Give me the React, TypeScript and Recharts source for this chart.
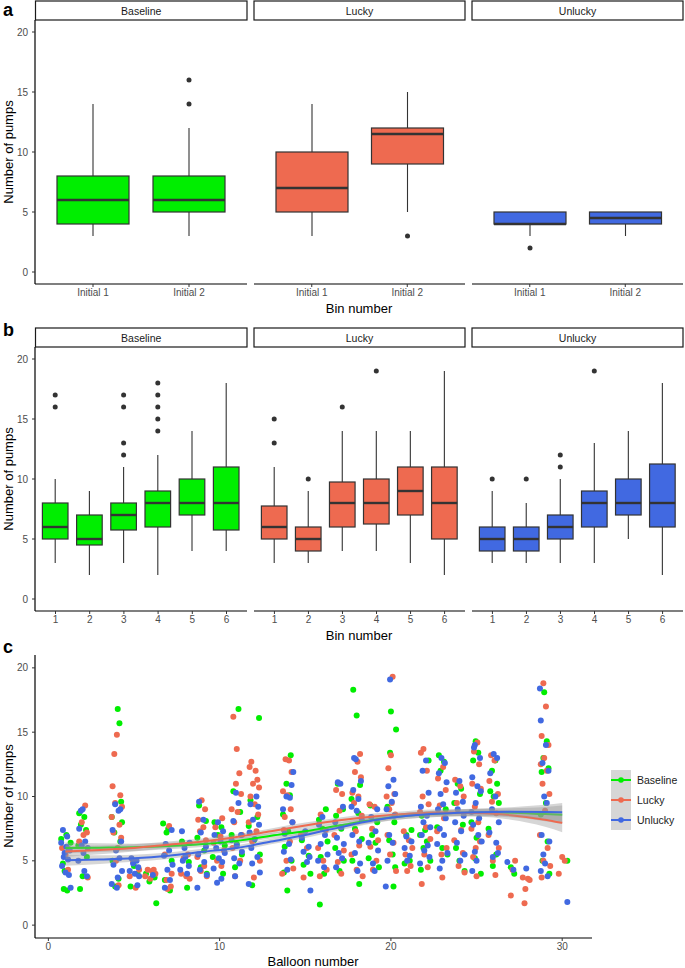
import React from 'react';
import { ComposedChart, Bar, XAxis, YAxis, Scatter, Line, Area } from 'recharts';

const FONT = '"Liberation Sans", Arial, Helvetica, sans-serif';
const GREEN = '#00EE00';
const RED = '#EE6A50';
const BLUE = '#4169E1';
const BOX_LINE = '#333333';

// ---------- Panel a / b data: [lower whisker, Q1, median, Q3, upper whisker]
const initialBins = ['Initial 1', 'Initial 2'];
const binNumbers = ['1', '2', '3', '4', '5', '6'];

const aBaselineBox = [[3, 4, 6, 8, 14], [3, 5, 6, 8, 12]];
const aBaselineOut = [[], [14, 16]];
const aLuckyBox = [[3, 5, 7, 10, 14], [5, 9, 11.5, 12, 15]];
const aLuckyOut = [[], [3]];
const aUnluckyBox = [[3, 4, 4, 5, 5], [3, 4, 4.5, 5, 5]];
const aUnluckyOut = [[2], []];

const bBaselineBox = [[3, 5, 6, 8, 10], [2, 4.5, 5, 7, 9], [3, 5.75, 7, 8, 11], [2, 6, 8, 9, 12], [4, 7, 8, 10, 14], [4, 5.75, 8, 11, 18]];
const bBaselineOut = [[16, 17], [], [12, 13, 16, 17], [14, 15, 16, 17, 18], [], []];
const bLuckyBox = [[3, 5, 6, 7.75, 11], [3, 4, 5, 6, 9], [4, 6, 8, 9.75, 14], [4, 6.25, 8, 10, 14], [3, 7, 9, 11, 14], [2, 5, 8, 11, 19]];
const bLuckyOut = [[13, 15], [10], [16], [19], [], []];
const bUnluckyBox = [[3, 4, 5, 6, 9], [3, 4, 5, 6, 8], [3, 5, 6, 7, 10], [3, 6, 8, 9, 13], [5, 7, 8, 10, 14], [2, 6, 8, 11.25, 18]];
const bUnluckyOut = [[10], [10], [11, 12], [19], [], []];

// ---------- Panel c data: jittered [balloon, pumps]
const baselinePts = [
  [0.75,6.7],[1.05,7.0],[0.85,4.8],[0.9,2.8],[1.1,2.7],[1.2,5.9],[0.95,4.2],[1.3,6.4],
  [1.8,8.7],[2.1,8.4],[1.9,7.8],[2.2,7.4],[1.75,6.2],[2.0,3.8],[1.85,2.8],[2.25,5.3],
  [4.05,16.8],[4.15,15.7],[3.7,8.4],[4.3,8.0],[3.85,7.2],[4.2,6.5],[3.75,5.0],[4.1,3.6],[3.9,3.0],[4.25,9.6],
  [4.8,3.0],[5.2,4.0],[5.0,4.6],
  [5.7,4.0],[6.2,3.7],[6.3,1.7],[5.9,3.4],
  [6.7,7.9],[7.0,7.5],[6.9,7.2],[7.2,5.0],[6.8,3.5],[7.1,2.7],
  [8.1,2.9],[7.8,6.5],[8.2,4.9],
  [8.8,9.3],[9.2,8.1],[8.7,6.8],[9.1,5.8],[8.9,4.5],[9.25,4.0],
  [9.7,8.0],[10.1,7.6],[9.9,7.0],[10.3,6.2],[9.6,5.3],[10.2,4.0],
  [11.1,16.8],[10.8,10.4],[11.2,8.8],[10.7,7.0],[11.0,6.3],[11.3,5.5],[10.9,4.5],
  [12.3,16.1],[11.8,9.7],[12.2,8.4],[11.7,7.7],[12.0,6.6],[12.35,5.5],[11.9,3.1],
  [14.15,13.2],[13.9,11.0],[14.1,10.1],[13.7,8.6],[14.0,7.3],[13.8,6.1],[14.2,5.0],[13.75,4.1],[13.95,2.7],
  [14.8,6.6],[15.2,5.4],[14.9,4.7],[15.3,4.0],
  [16.2,9.0],[15.8,8.2],[16.0,7.5],[16.3,6.5],[15.9,5.3],[16.1,4.0],[15.85,1.6],
  [16.9,11.0],[17.2,9.0],[16.8,8.5],[17.1,7.5],[16.75,6.0],[17.25,5.0],[17.0,4.2],
  [17.8,18.3],[18.0,16.3],[18.2,10.9],[17.7,9.8],[18.1,8.7],[17.9,7.5],[18.3,6.7],[17.75,5.0],[18.15,3.2],
  [18.8,9.3],[19.2,8.0],[18.9,7.0],[19.1,6.4],[18.7,5.2],[19.3,4.5],
  [20.0,16.6],[20.3,15.2],[19.95,13.4],[19.8,9.2],[20.2,8.0],[19.9,6.6],[20.1,5.5],[20.25,4.5],[20.15,3.0],
  [21.2,7.4],[20.9,7.0],[21.1,5.0],[20.8,4.8],
  [22.2,12.8],[21.8,8.5],[22.0,7.4],[21.7,7.0],[22.1,6.5],[21.9,6.0],[22.3,5.0],[21.75,4.3],
  [22.8,13.2],[23.1,12.7],[22.9,12.0],[23.2,9.0],[22.7,7.6],[23.0,6.0],[23.3,5.5],
  [23.9,11.0],[24.1,10.6],[23.7,9.5],[24.2,7.8],[23.8,6.0],[24.0,5.0],[24.3,4.2],
  [24.95,14.3],[25.1,13.4],[24.8,12.8],[25.2,10.2],[24.7,8.0],[25.0,6.8],[24.9,5.2],[25.25,4.0],
  [26.1,12.8],[25.9,12.0],[26.2,11.0],[25.8,10.4],[26.0,10.0],[26.3,9.5],[25.7,7.5],[26.15,5.5],[25.95,4.6],
  [27.0,4.5],[27.2,4.0],
  [28.95,18.1],[29.1,14.3],[28.9,13.0],[29.2,12.2],[28.8,11.9],[29.05,9.5],[28.75,8.6],[29.15,6.5],[28.85,5.0],[29.25,4.0],
  [30.3,5.0],
];

const luckyPts = [
  [1.0,5.5],[1.15,4.3],[0.8,6.0],
  [2.15,9.3],[1.95,8.0],[2.25,7.2],[2.05,7.0],[1.8,6.5],[2.3,3.7],
  [4.0,14.8],[3.85,13.3],[3.75,10.8],[4.2,10.1],[3.9,9.5],[4.3,9.2],[3.7,8.4],[4.15,7.8],[3.8,7.2],[4.25,6.8],[4.05,6.0],[3.95,5.0],[4.1,3.1],
  [4.95,4.9],[5.3,4.3],[4.75,3.8],[5.1,2.9],
  [5.8,4.3],[6.05,4.2],[6.25,4.0],[5.65,3.8],[5.95,3.6],[6.15,4.3],
  [7.05,7.7],[6.8,5.5],[7.2,4.0],[6.9,3.5],[7.15,3.0],[6.95,2.8],
  [7.75,4.0],[8.05,3.8],[8.25,3.6],[7.9,5.2],[8.15,5.5],
  [8.95,9.7],[9.15,9.0],[8.75,8.2],[9.05,7.6],[8.85,7.3],[9.2,6.6],[8.7,5.3],[9.1,4.6],[8.9,4.2],[9.25,3.8],
  [10.15,8.3],[9.75,7.6],[10.05,6.9],[9.65,6.4],[10.25,5.8],[9.85,5.0],[10.1,4.6],
  [10.8,16.2],[11.0,13.7],[11.15,11.8],[10.95,11.0],[11.25,10.2],[10.7,9.0],[11.05,8.8],[10.85,8.0],[11.3,7.0],[10.75,6.0],[11.2,5.0],[10.9,3.8],
  [11.85,12.7],[11.75,12.3],[12.1,12.0],[12.2,11.3],[11.95,11.0],[12.3,10.7],[11.8,10.0],[12.05,9.4],[12.25,8.6],[11.7,8.0],[12.15,7.3],[11.9,6.5],[12.35,5.0],[12.0,3.7],
  [13.85,12.9],[14.05,12.8],[14.2,11.9],[13.7,10.4],[13.95,10.1],[14.15,9.0],[13.8,8.4],[14.25,8.0],[13.75,7.4],[14.1,6.5],[13.9,5.0],[14.3,4.4],[13.65,4.0],
  [14.75,7.0],[15.1,6.0],[14.9,3.7],
  [15.9,8.6],[16.2,7.4],[15.75,6.0],[16.05,5.0],[16.25,4.3],[15.85,3.8],
  [16.8,10.5],[17.15,10.2],[17.0,8.9],[16.7,7.0],[17.25,5.8],[16.9,4.9],[17.1,4.0],
  [18.2,13.3],[18.05,12.7],[17.9,11.9],[18.25,11.5],[17.75,10.3],[18.1,10.0],[17.85,9.5],[18.3,8.5],[17.95,7.3],[18.15,6.2],[17.7,5.5],[18.0,4.3],[18.35,3.8],
  [18.75,9.4],[19.05,9.2],[18.9,7.5],[19.25,6.6],[18.8,6.1],[19.15,5.0],[18.95,4.3],
  [20.1,19.3],[20.0,13.2],[19.85,12.2],[20.2,10.2],[19.75,10.0],[20.05,9.5],[19.9,9.0],[20.25,8.6],[19.8,7.0],[20.15,6.4],[19.95,5.5],[20.3,4.2],
  [20.75,7.3],[21.05,6.6],[21.25,6.0],[20.85,5.5],[21.15,4.6],[20.95,4.2],
  [21.9,13.7],[21.75,13.4],[22.1,12.0],[21.85,10.0],[22.2,9.4],[21.7,8.8],[22.05,7.6],[22.3,6.7],[21.95,5.5],[22.15,4.5],[21.8,3.2],
  [23.05,12.3],[22.75,11.4],[23.2,10.5],[22.85,9.3],[23.1,8.3],[22.7,7.3],[23.25,6.0],[22.95,5.5],[23.0,3.7],
  [23.75,11.3],[24.05,10.8],[24.25,10.0],[23.85,9.5],[24.1,7.4],[23.7,6.6],[24.2,5.6],[23.95,4.6],[24.3,4.1],
  [25.05,14.2],[24.85,13.5],[25.15,12.5],[24.75,11.0],[25.25,10.6],[24.9,9.2],[25.1,8.0],[24.7,7.5],[25.2,6.5],[24.95,6.0],[24.8,5.3],[25.0,3.8],
  [25.85,13.2],[26.05,12.8],[25.75,11.2],[26.25,10.2],[25.9,9.6],[26.15,8.7],[25.7,7.0],[26.3,6.0],[25.95,5.0],[26.1,3.9],
  [27.25,5.0],[27.1,4.3],[27.0,2.3],
  [27.7,3.7],[28.0,3.6],[27.85,2.8],[27.8,1.7],[28.1,3.5],
  [28.9,18.8],[29.05,17.0],[28.8,14.7],[29.2,14.0],[28.95,13.0],[28.75,12.5],[29.1,12.0],[28.85,11.0],[29.25,10.2],[29.0,8.9],[28.7,7.0],[29.15,6.0],[28.9,5.0],[29.3,4.6],[28.8,3.7],
  [30.0,5.3],[30.15,5.0],[29.8,4.0],
];

const unluckyPts = [
  [0.85,7.4],[1.1,6.9],[0.75,6.4],[1.25,5.8],[0.9,5.3],[1.15,5.1],[0.8,4.6],[1.0,4.1],[1.2,3.9],[1.3,2.9],[1.05,6.1],[0.95,5.6],
  [1.9,8.9],[2.0,9.0],[1.8,7.5],[2.15,6.5],[1.95,6.2],[2.3,6.0],[1.75,5.0],[2.1,4.2],[2.25,3.8],[2.05,5.6],
  [3.9,9.4],[4.2,9.0],[4.1,8.9],[3.75,7.4],[4.25,6.5],[3.95,5.8],[4.15,5.2],[3.8,4.7],[4.3,4.2],[4.05,3.7],[3.7,3.2],[4.0,2.9],
  [4.85,5.2],[5.15,5.0],[4.95,4.8],[5.25,4.5],[4.75,4.2],[5.05,4.0],[5.3,3.8],[5.2,3.1],
  [6.1,3.9],
  [7.2,7.4],[6.85,6.3],[7.05,5.8],[6.75,5.4],[7.25,4.7],[6.95,4.3],[7.1,3.5],[6.8,2.9],
  [8.0,5.3],[7.85,5.0],[8.2,4.6],[7.7,4.3],[8.1,4.0],[7.95,6.0],[8.25,6.4],[7.8,7.3],
  [8.8,9.6],[9.05,8.2],[8.9,7.2],[9.2,6.1],[8.75,5.5],[9.1,4.9],[8.85,4.3],[9.25,3.9],[8.7,2.9],
  [9.9,8.0],[10.2,7.3],[9.7,7.0],[10.05,6.5],[9.8,6.0],[10.3,5.6],[9.95,5.2],[10.15,4.9],[9.65,4.4],[10.1,3.6],[9.85,3.3],
  [10.95,10.3],[11.1,9.5],[10.8,8.1],[11.25,7.0],[10.7,6.6],[11.0,6.2],[11.3,5.7],[10.85,5.2],[11.15,4.8],[10.9,3.8],
  [12.15,10.0],[11.8,9.4],[12.25,9.2],[11.95,8.2],[12.3,7.8],[11.75,7.2],[12.05,6.7],[11.85,6.0],[12.2,5.3],[11.9,4.8],[12.35,4.1],[11.7,3.2],
  [14.3,11.9],[14.2,10.9],[13.9,10.0],[14.1,9.9],[13.7,9.0],[14.25,8.0],[13.8,7.1],[14.05,6.3],[13.75,5.7],[14.15,5.1],[13.95,4.3],
  [15.0,7.3],[14.8,6.8],[15.2,6.1],[14.9,5.7],[15.25,5.3],[15.1,4.9],[15.3,2.7],
  [16.0,8.4],[15.8,7.8],[16.15,7.0],[15.9,6.3],[16.3,5.5],[15.75,5.0],[16.1,4.5],
  [16.9,11.1],[17.05,11.0],[17.2,9.2],[16.75,8.0],[17.1,7.6],[16.85,6.8],[17.25,6.3],[16.95,5.6],[17.15,5.2],[16.8,4.5],
  [17.85,13.0],[17.95,12.9],[18.25,11.2],[17.8,10.5],[18.1,9.8],[17.7,9.2],[18.0,8.9],[18.3,8.2],[17.75,7.0],[18.15,6.5],[17.9,5.6],[18.2,4.8],[18.05,4.2],
  [19.2,9.0],[18.85,8.4],[19.1,7.3],[18.7,6.4],[19.25,5.8],[18.95,4.8],[19.05,4.2],
  [19.95,19.1],[20.15,11.3],[19.85,10.8],[20.25,10.2],[20.05,9.6],[19.75,9.0],[20.2,8.5],[19.9,7.0],[20.1,6.4],[19.8,5.0],[19.7,3.0],
  [20.9,6.9],[21.2,6.5],[20.8,6.0],[21.1,5.4],[20.95,5.0],
  [22.05,12.8],[21.85,12.0],[22.2,10.3],[21.75,9.2],[22.1,8.5],[21.9,8.0],[22.3,7.6],[21.8,7.0],[22.15,6.2],[21.95,5.8],[22.25,5.3],[21.7,4.8],
  [22.95,13.0],[23.15,12.6],[22.8,11.8],[23.25,11.1],[22.9,10.2],[23.05,9.4],[22.75,9.0],[23.2,8.3],[22.85,7.5],[23.1,7.0],[22.7,6.3],[23.3,5.6],[23.0,5.0],[22.85,4.4],
  [24.0,11.2],[23.8,10.3],[24.2,9.6],[23.9,9.0],[24.25,8.5],[23.75,8.0],[24.1,7.3],[23.85,6.4],[24.3,5.5],[24.05,5.0],
  [24.9,14.0],[24.85,13.8],[25.2,13.0],[24.75,11.5],[25.05,10.8],[25.25,10.4],[24.95,9.5],[24.7,8.8],[25.15,8.3],[24.8,7.8],[25.1,7.0],[25.3,6.5],[24.9,5.7],[25.0,5.0],[24.75,4.2],
  [26.0,13.3],[26.2,13.0],[25.8,11.8],[26.1,10.0],[25.9,9.0],[26.3,8.0],[25.75,7.2],[26.15,6.4],[25.95,5.3],[26.25,5.6],
  [26.8,4.9],[27.15,4.3],
  [27.9,4.4],
  [28.7,18.4],[28.75,15.9],[29.05,14.0],[28.85,12.6],[29.2,12.0],[28.95,10.0],[29.1,9.5],[28.8,7.0],[29.25,6.5],[28.9,5.5],[29.0,4.8],[28.75,4.2],[29.15,3.8],
  [30.3,1.8],
];

// Smoothed (loess) fits with standard-error half widths
const smoothX = [1, 3, 5, 7, 9, 11, 13, 15, 17, 19, 21, 23, 25, 27, 29, 30];
const baselineFit = [6.0, 6.02, 6.05, 6.15, 6.3, 6.55, 6.95, 7.3, 7.75, 8.2, 8.5, 8.67, 8.75, 8.73, 8.63, 8.58];
const luckyFit = [5.72, 5.85, 6.0, 6.25, 6.5, 6.85, 7.3, 7.75, 8.15, 8.45, 8.65, 8.75, 8.72, 8.55, 8.2, 7.95];
const unluckyFit = [5.04, 5.1, 5.2, 5.4, 5.7, 6.0, 6.5, 7.0, 7.6, 8.15, 8.5, 8.68, 8.78, 8.82, 8.8, 8.77];
const fitSe = [0.42, 0.34, 0.28, 0.25, 0.23, 0.22, 0.22, 0.22, 0.22, 0.22, 0.23, 0.25, 0.28, 0.35, 0.55, 0.72];

const conditions = ['Baseline', 'Lucky', 'Unlucky'];
const conditionColors = [GREEN, RED, BLUE];

// ---------- helpers
const tickStyle = { fontSize: 10, fill: '#4d4d4d', fontFamily: FONT };

function BoxShape(props: any) {
  const { x, y, width, height, color } = props;
  const d = props.payload || props;
  const { lo, q1, med, q3, hi, out } = d;
  const top = Math.min(y, y + height);
  const bot = Math.max(y, y + height);
  const py = (v: number) => bot - ((v - lo) / (hi - lo)) * (bot - top);
  const cx = x + width / 2;
  return (
    <g>
      <line x1={cx} x2={cx} y1={py(hi)} y2={py(q3)} stroke={BOX_LINE} strokeWidth={1.1} />
      <line x1={cx} x2={cx} y1={py(q1)} y2={py(lo)} stroke={BOX_LINE} strokeWidth={1.1} />
      <rect x={x} y={py(q3)} width={width} height={py(q1) - py(q3)} fill={color} stroke={BOX_LINE} strokeWidth={1.2} />
      <line x1={x} x2={x + width} y1={py(med)} y2={py(med)} stroke={BOX_LINE} strokeWidth={2.4} />
      {(out || []).map((v: number, i: number) => (
        <circle key={i} cx={cx} cy={py(v)} r={2.5} fill={BOX_LINE} />
      ))}
    </g>
  );
}

function BoxFacet(props: { bins: string[]; box: number[][]; out: number[][]; color: string; width: number; showY: boolean; pad: number; barSize: number }) {
  const { bins, box, out, color, width, showY, pad, barSize } = props;
  const rows = bins.map((b, i) => ({ bin: b, lo: box[i][0], q1: box[i][1], med: box[i][2], q3: box[i][3], hi: box[i][4], out: out[i] }));
  return (
    <ComposedChart width={width} height={294} data={rows} margin={{ top: 0, right: 0, bottom: 0, left: 0 }}>
      <XAxis
        dataKey="bin"
        type="category"
        padding={{ left: pad, right: pad }}
        height={30}
        tickSize={3}
        tickMargin={2}
        interval={0}
        tick={tickStyle}
        axisLine={{ stroke: '#000', strokeWidth: 1.2 }}
        tickLine={{ stroke: '#333' }}
      />
      <YAxis
        hide={!showY}
        width={showY ? 35 : 0}
        type="number"
        domain={[-1, 21]}
        ticks={[0, 5, 10, 15, 20]}
        allowDataOverflow
        tickSize={3}
        tickMargin={4}
        tick={tickStyle}
        axisLine={{ stroke: '#000', strokeWidth: 1.2 }}
        tickLine={{ stroke: '#333' }}
      />
      <Bar
        dataKey={(d: any) => [d.lo, d.hi]}
        barSize={barSize}
        isAnimationActive={false}
        shape={(p: any) => <BoxShape {...p} color={color} />}
      />
    </ComposedChart>
  );
}

const dot = (color: string) => (p: any) => <circle cx={p.cx} cy={p.cy} r={3} fill={color} />;

const facetLefts = [0, 254, 472];
const facetWidths = [247, 211, 211];
const stripX = [[35.5, 247], [254, 465], [472, 683]];

function Strips({ y }: { y: number }) {
  return (
    <g>
      {conditions.map((c, i) => (
        <g key={c}>
          <rect x={stripX[i][0]} y={y} width={stripX[i][1] - stripX[i][0]} height={19} fill="#fff" stroke="#1a1a1a" strokeWidth={1.2} />
          <text x={(stripX[i][0] + stripX[i][1]) / 2} y={y + 13.5} textAnchor="middle" fontSize={10.5} fill="#1a1a1a" fontFamily={FONT}>{c}</text>
        </g>
      ))}
    </g>
  );
}

function YTitle({ cy }: { cy: number }) {
  return (
    <text x={0} y={0} transform={`translate(13,${cy}) rotate(-90)`} textAnchor="middle" fontSize={13} fill="#000" fontFamily={FONT}>Number of pumps</text>
  );
}

export default function App() {
  const smoothRows = smoothX.map((x, i) => ({
    x,
    g: baselineFit[i],
    r: luckyFit[i],
    u: unluckyFit[i],
    gBand: [baselineFit[i] - fitSe[i], baselineFit[i] + fitSe[i]],
    rBand: [luckyFit[i] - fitSe[i], luckyFit[i] + fitSe[i]],
    uBand: [unluckyFit[i] - fitSe[i], unluckyFit[i] + fitSe[i]],
  }));
  const toXY = (arr: number[][]) => arr.map(([x, y]) => ({ x, y }));

  const aBoxes = [aBaselineBox, aLuckyBox, aUnluckyBox];
  const aOuts = [aBaselineOut, aLuckyOut, aUnluckyOut];
  const bBoxes = [bBaselineBox, bLuckyBox, bUnluckyBox];
  const bOuts = [bBaselineOut, bLuckyOut, bUnluckyOut];

  return (
    <div style={{ position: 'absolute', left: 0, top: 0, width: 685, height: 968, background: '#fff', overflow: 'hidden' }}>
      <svg width={685} height={968} style={{ position: 'absolute', left: 0, top: 0 }}>
        <text x={3} y={16} fontSize={18} fontWeight="bold" fontFamily={FONT} fill="#000">a</text>
        <text x={3} y={336} fontSize={18} fontWeight="bold" fontFamily={FONT} fill="#000">b</text>
        <text x={3} y={653} fontSize={18} fontWeight="bold" fontFamily={FONT} fill="#000">c</text>
        <Strips y={1} />
        <Strips y={328} />
        <YTitle cy={152} />
        <YTitle cy={479} />
        <YTitle cy={796} />
        <text x={359} y={313} textAnchor="middle" fontSize={13} fontFamily={FONT} fill="#000">Bin number</text>
        <text x={359} y={640} textAnchor="middle" fontSize={13} fontFamily={FONT} fill="#000">Bin number</text>
        <text x={313} y={966} textAnchor="middle" fontSize={13} fontFamily={FONT} fill="#000">Balloon number</text>
        {/* legend */}
        <rect x={611} y={770} width={20} height={60} fill="#d6d6d6" />
        {conditions.map((c, i) => (
          <g key={c}>
            <line x1={611} x2={631} y1={780 + i * 20} y2={780 + i * 20} stroke={conditionColors[i]} strokeWidth={2} />
            <circle cx={621} cy={780 + i * 20} r={2.8} fill={conditionColors[i]} />
            <text x={637} y={784 + i * 20} fontSize={10.5} fontFamily={FONT} fill="#1a1a1a">{c}</text>
          </g>
        ))}
      </svg>

      {conditions.map((c, i) => (
        <div key={'a' + c} style={{ position: 'absolute', left: facetLefts[i], top: 20 }}>
          <BoxFacet bins={initialBins} box={aBoxes[i]} out={aOuts[i]} color={conditionColors[i]} width={facetWidths[i]} showY={i === 0} pad={10} barSize={72} />
        </div>
      ))}

      {conditions.map((c, i) => (
        <div key={'b' + c} style={{ position: 'absolute', left: facetLefts[i], top: 347 }}>
          <BoxFacet bins={binNumbers} box={bBoxes[i]} out={bOuts[i]} color={conditionColors[i]} width={facetWidths[i]} showY={i === 0} pad={3.4} barSize={25.6} />
        </div>
      ))}

      <div style={{ position: 'absolute', left: 0, top: 655 }}>
        <ComposedChart width={592} height={313} data={smoothRows} margin={{ top: 0, right: 0, bottom: 0, left: 0 }}>
          <XAxis
            dataKey="x"
            type="number"
            domain={[-0.78, 31.74]}
            ticks={[0, 10, 20, 30]}
            allowDataOverflow
            height={30}
            tickSize={3}
            tickMargin={2}
            tick={tickStyle}
            axisLine={{ stroke: '#000', strokeWidth: 1.2 }}
            tickLine={{ stroke: '#333' }}
          />
          <YAxis
            type="number"
            width={35}
            domain={[-1, 21]}
            ticks={[0, 5, 10, 15, 20]}
            allowDataOverflow
            tickSize={3}
            tickMargin={4}
            tick={tickStyle}
            axisLine={{ stroke: '#000', strokeWidth: 1.2 }}
            tickLine={{ stroke: '#333' }}
          />
          <Scatter data={toXY(baselinePts)} dataKey="y" fill={GREEN} shape={dot(GREEN)} isAnimationActive={false} zIndex={100} />
          <Scatter data={toXY(luckyPts)} dataKey="y" fill={RED} shape={dot(RED)} isAnimationActive={false} zIndex={100} />
          <Scatter data={toXY(unluckyPts)} dataKey="y" fill={BLUE} shape={dot(BLUE)} isAnimationActive={false} zIndex={100} />
          <Area dataKey="gBand" type="monotone" stroke="none" fill="#999999" fillOpacity={0.4} isAnimationActive={false} zIndex={700} />
          <Line dataKey="g" type="monotone" stroke={GREEN} strokeWidth={2} dot={false} isAnimationActive={false} zIndex={710} />
          <Area dataKey="rBand" type="monotone" stroke="none" fill="#999999" fillOpacity={0.4} isAnimationActive={false} zIndex={720} />
          <Line dataKey="r" type="monotone" stroke={RED} strokeWidth={2} dot={false} isAnimationActive={false} zIndex={730} />
          <Area dataKey="uBand" type="monotone" stroke="none" fill="#999999" fillOpacity={0.4} isAnimationActive={false} zIndex={740} />
          <Line dataKey="u" type="monotone" stroke={BLUE} strokeWidth={2} dot={false} isAnimationActive={false} zIndex={750} />
        </ComposedChart>
      </div>
    </div>
  );
}
